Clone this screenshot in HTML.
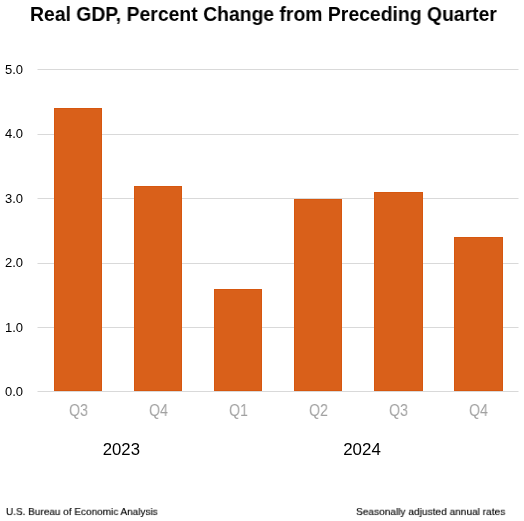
<!DOCTYPE html>
<html><head><meta charset="utf-8">
<style>
html,body{margin:0;padding:0;background:#fff;}
body{width:524px;height:521px;position:relative;overflow:hidden;font-family:"Liberation Sans",sans-serif;}
.t{position:absolute;white-space:nowrap;line-height:1;transform-origin:0 0;will-change:transform;}
.g{position:absolute;left:37px;width:482px;height:1px;background:linear-gradient(to right,#ececec 0 1px,#d9d9d9 1px calc(100% - 1px),#ececec calc(100% - 1px));}
.b{position:absolute;width:48px;background:#d9601a;box-shadow:inset 0 0 0 1px #d6570f;}
.yl{font-size:13px;color:#000;}
.q{font-size:16.3px;color:#a0a0a0;transform:scaleX(0.87);}
</style></head><body>
<div class="t" id="title" style="left:30px;top:5px;font-size:19.5px;font-weight:bold;color:#000;transform:scaleX(0.9936);">Real GDP, Percent Change from Preceding Quarter</div>

<div class="g" style="top:69px"></div>
<div class="g" style="top:134px"></div>
<div class="g" style="top:198px"></div>
<div class="g" style="top:263px"></div>
<div class="g" style="top:327px"></div>
<div class="g" style="top:391px"></div>

<div class="t yl" style="left:5px;top:63px">5.0</div>
<div class="t yl" style="left:5px;top:127px">4.0</div>
<div class="t yl" style="left:5px;top:192px">3.0</div>
<div class="t yl" style="left:5px;top:256px">2.0</div>
<div class="t yl" style="left:5px;top:321px">1.0</div>
<div class="t yl" style="left:5px;top:385px">0.0</div>

<div class="b" style="left:54px;top:108px;width:48px;height:283px"></div>
<div class="b" style="left:134px;top:186px;width:48px;height:205px"></div>
<div class="b" style="left:214px;top:289px;width:48px;height:102px"></div>
<div class="b" style="left:294px;top:199px;width:48px;height:192px"></div>
<div class="b" style="left:374px;top:192px;width:49px;height:199px"></div>
<div class="b" style="left:454px;top:237px;width:49px;height:154px"></div>

<div class="t q" style="left:68.7px;top:402px">Q3</div>
<div class="t q" style="left:148.7px;top:402px">Q4</div>
<div class="t q" style="left:228.7px;top:402px">Q1</div>
<div class="t q" style="left:308.7px;top:402px">Q2</div>
<div class="t q" style="left:388.7px;top:402px">Q3</div>
<div class="t q" style="left:468.7px;top:402px">Q4</div>

<div class="t" style="left:103px;top:441px;font-size:16.5px;color:#000;transform:translateX(-0.3px) scaleX(1.015)">2023</div>
<div class="t" style="left:343px;top:441px;font-size:16.5px;color:#000;transform:translateX(0.2px) scaleX(1.025)">2024</div>

<div class="t" style="left:6px;top:507px;font-size:10.5px;color:#000;transform:scale(0.952,0.9);-webkit-text-stroke:0.15px #000">U.S. Bureau of Economic Analysis</div>
<div class="t" style="left:356px;top:507px;font-size:10.5px;color:#000;transform:scale(0.965,0.9);-webkit-text-stroke:0.15px #000">Seasonally adjusted annual rates</div>
</body></html>
